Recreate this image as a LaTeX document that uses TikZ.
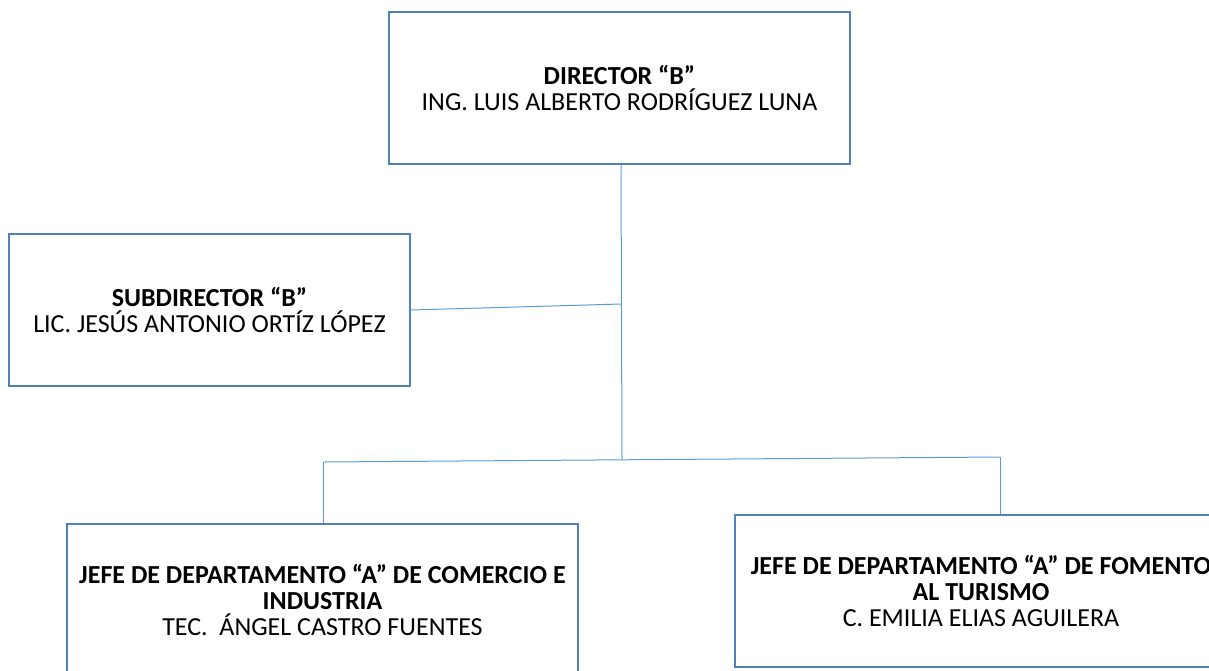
\documentclass[tikz,border=0pt]{standalone}
\usepackage{fontspec}
\setmainfont{Carlito}
\definecolor{boxblue}{HTML}{4F81BD}
\definecolor{lineblue}{HTML}{5B9BD5}
\begin{document}
\begin{tikzpicture}[x=0.5pt,y=-0.5pt,
    puesto/.style={draw=boxblue,line width=1.2pt,rectangle,align=center,
      inner sep=0pt,minimum height=76pt,font=\fontsize{13}{13.2}\selectfont},
    enlace/.style={draw=lineblue,line width=0.5pt}]
      \useasboundingbox (0,0) rectangle (1209,670);
      \draw
        (619.5,88) node[puesto,minimum width=230.5pt] (dir){\textbf{DIRECTOR “B”}\\ING. LUIS ALBERTO RODRÍGUEZ LUNA}
        (209.5,310) node[puesto,minimum width=200.5pt] (sub){\textbf{SUBDIRECTOR “B”}\\LIC. JESÚS ANTONIO ORTÍZ LÓPEZ}
        (322.5,600) node[puesto,minimum width=255.5pt] (com){\textbf{JEFE DE DEPARTAMENTO “A” DE COMERCIO E}\\\textbf{INDUSTRIA}\\TEC.\ \ ÁNGEL CASTRO FUENTES}
        (981,591) node[puesto,minimum width=246pt] (tur){\textbf{JEFE DE DEPARTAMENTO “A” DE FOMENTO}\\\textbf{AL TURISMO}\\C. EMILIA ELIAS AGUILERA};
      \coordinate (j1) at (621,304);
      \coordinate (j2) at (622,459);
      \coordinate (bl) at (323,462);
      \coordinate (br) at (1000,457);
      \begin{scope}[enlace]
        \draw (dir.south -| j1) to (j2);
        \draw (sub.east) to (j1);
        \draw (bl) to (br);
        \draw (bl) to (com.north -| bl);
        \draw (br) to (tur.north -| br);
      \end{scope}
    \end{tikzpicture}
\end{document}
